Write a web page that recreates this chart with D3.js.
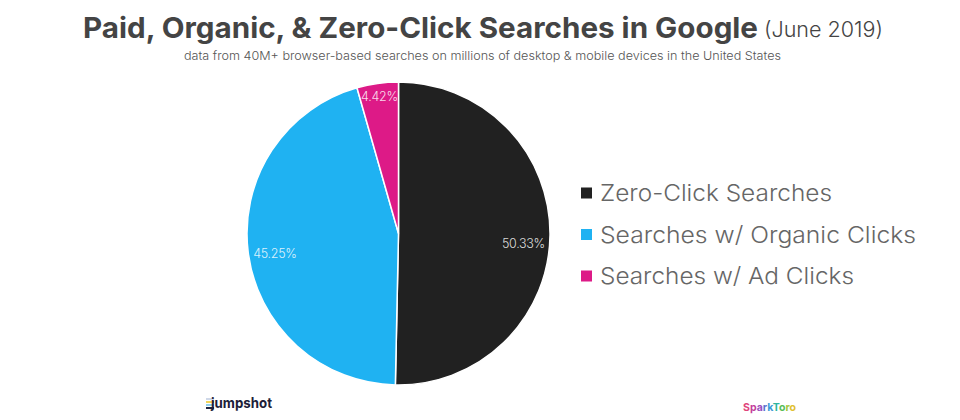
<!DOCTYPE html>
<html>
<head>
<meta charset="utf-8">
<script src="https://cdn.jsdelivr.net/npm/d3@7/dist/d3.min.js"></script>
<style>
  html, body { margin: 0; padding: 0; background: #fff; }
  svg { display: block; }
  text { font-family: Inter, "Open Sans", sans-serif; }
</style>
</head>
<body>
<svg id="chart" width="960" height="420"></svg>
<script>
// chart data
var categories = ["Zero-Click Searches", "Searches w/ Organic Clicks", "Searches w/ Ad Clicks"];
var shares = [50.33, 45.25, 4.42];
var shareLabels = ["50.33%", "45.25%", "4.42%"];
var colors = ["#212121", "#1fb2f2", "#dd1a87"];

var svg = d3.select("#chart");
var cx = 398.5, cy = 233.5, radius = 151.5;

//------------------------------------------------------------------------------
//Title
//------------------------------------------------------------------------------
svg.append("text")
  .attr("x", 83).attr("y", 38)
  .attr("fill", "#444")
  .attr("font-size", 29)
  .attr("font-weight", 700)
  .attr("textLength", 675)
  .attr("lengthAdjust", "spacingAndGlyphs")
  .text("Paid, Organic, & Zero-Click Searches in Google");
svg.append("text")
  .attr("x", 764).attr("y", 37)
  .attr("fill", "#444")
  .attr("font-size", 21)
  .attr("font-weight", 300)
  .attr("textLength", 119)
  .attr("lengthAdjust", "spacingAndGlyphs")
  .text("(June 2019)");
svg.append("text")
  .attr("x", 184).attr("y", 60)
  .attr("fill", "#555")
  .attr("font-size", 12)
  .attr("font-weight", 300)
  .attr("textLength", 597)
  .attr("lengthAdjust", "spacingAndGlyphs")
  .text("data from 40M+ browser-based searches on millions of desktop & mobile devices in the United States");

//------------------------------------------------------------------------------
//Pie
//------------------------------------------------------------------------------
var pie = d3.pie().sort(null).value(function (d) { return d; });
var arc = d3.arc().innerRadius(0).outerRadius(radius);
var slices = pie(shares);

var g = svg.append("g").attr("transform", "translate(" + cx + "," + cy + ")");
g.selectAll("path")
  .data(slices)
  .enter().append("path")
  .attr("d", arc)
  .attr("fill", function (d, i) { return colors[i]; })
  .attr("stroke", "#fff")
  .attr("stroke-width", 1.5);

// labels sit just inside the rim
var labelAnchor = ["end", "start", "middle"];
var labelDy = [13, 6, 4];
var labelInset = [5, 5, 14];
g.selectAll("text")
  .data(slices)
  .enter().append("text")
  .attr("x", function (d) { return Math.sin((d.startAngle + d.endAngle) / 2) * (radius - labelInset[d.index]); })
  .attr("y", function (d) { return -Math.cos((d.startAngle + d.endAngle) / 2) * (radius - labelInset[d.index]); })
  .attr("dy", function (d, i) { return labelDy[i]; })
  .attr("text-anchor", function (d, i) { return labelAnchor[i]; })
  .attr("fill", "#fff")
  .attr("fill-opacity", 0.85)
  .attr("font-size", 12.5)
  .attr("font-weight", 300)
  .attr("letter-spacing", -0.3)
  .text(function (d, i) { return shareLabels[i]; });

//------------------------------------------------------------------------------
//Legend
//------------------------------------------------------------------------------
var legendY = d3.scalePoint().domain(categories).range([193, 276]);
var legend = svg.selectAll(".legend")
  .data(categories)
  .enter().append("g")
  .attr("class", "legend")
  .attr("transform", function (d) { return "translate(581," + legendY(d) + ")"; });
legend.append("rect")
  .attr("x", 0).attr("y", -5.5)
  .attr("width", 11).attr("height", 11)
  .attr("fill", function (d, i) { return colors[i]; });
var legendWidths = [232, 316, 254];
legend.append("text")
  .attr("x", 19).attr("y", 8)
  .attr("fill", "#666")
  .attr("font-size", 23)
  .attr("font-weight", 300)
  .attr("textLength", function (d, i) { return legendWidths[i]; })
  .attr("lengthAdjust", "spacingAndGlyphs")
  .text(function (d) { return d; });

//------------------------------------------------------------------------------
//Logos
//------------------------------------------------------------------------------
var stripeColors = ["#cfd8e8", "#f3d65a", "#8fd0ee", "#1f2440"];
svg.selectAll(".stripe")
  .data(stripeColors)
  .enter().append("rect")
  .attr("class", "stripe")
  .attr("x", 206)
  .attr("y", function (d, i) { return 398 + i * 3; })
  .attr("width", 8).attr("height", 2)
  .attr("fill", function (d) { return d; });
svg.append("text")
  .attr("x", 211).attr("y", 408)
  .attr("fill", "#1c2038")
  .attr("font-size", 14)
  .attr("font-weight", 700)
  .attr("textLength", 61)
  .attr("lengthAdjust", "spacingAndGlyphs")
  .text("jumpshot");

var sparkLetters = "SparkToro".split("");
var sparkColors = ["#e0457b", "#c43f9a", "#9a4fc0", "#5a6fd0", "#3a9ad8", "#2fb5a0", "#56bd5a", "#a5c63c", "#e0c030"];
var sparkText = svg.append("text")
  .attr("x", 743).attr("y", 411)
  .attr("font-size", 11)
  .attr("font-weight", 700)
  .attr("textLength", 53)
  .attr("lengthAdjust", "spacingAndGlyphs");
sparkText.selectAll("tspan")
  .data(sparkLetters)
  .enter().append("tspan")
  .attr("fill", function (d, i) { return sparkColors[i]; })
  .text(function (d) { return d; });
</script>
</body>
</html>
